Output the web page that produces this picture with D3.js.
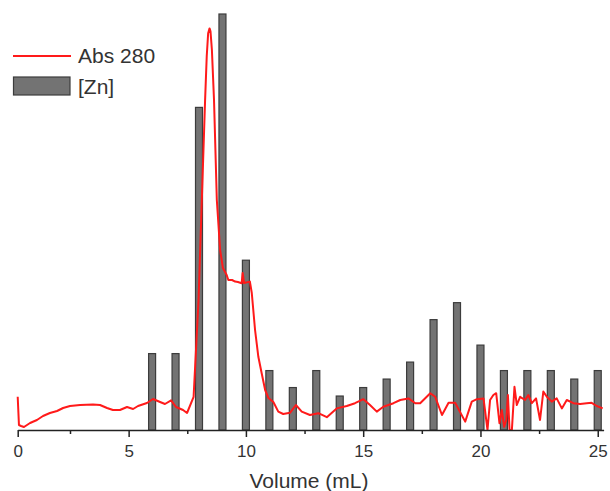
<!doctype html>
<html>
<head>
<title>Abs 280 and [Zn] vs volume</title>
<style type="text/css">
body { margin: 0; background: #fff; }
svg { display: block; font-family: "Liberation Sans", Arial, sans-serif; }
</style>
<script src="https://cdnjs.cloudflare.com/ajax/libs/d3/7.8.5/d3.min.js"></script>
</head>
<body>
<script type="text/javascript">
var width = 610, height = 491;

// fractions collected for zinc (mL) and the zinc level in each
var znVolume = [6, 7, 8, 9, 10, 11, 12, 13, 14, 15, 16, 17, 18, 19, 20, 21, 22, 23, 24, 25];
var znValue  = [9, 9, 38, 49, 20, 7, 5, 7, 4, 5, 6, 8, 13, 15, 10, 7, 7, 7, 6, 7];

// absorbance trace
var absVolume = [0, 0.06, 0.16, 0.30, 0.59, 0.92, 1.21, 1.54, 1.88, 2.17, 2.5, 2.93, 3.48, 3.78,
	4.08, 4.33, 4.63, 4.93, 5.19, 5.40, 5.78, 6.04, 6.34, 6.55, 6.81, 7.02, 7.32, 7.49, 7.77,
	7.98, 8.12, 8.26, 8.33, 8.39, 8.45, 8.49, 8.55, 8.64, 8.76, 8.90, 9.02, 9.18, 9.25, 9.41, 9.54, 9.66,
	9.82, 9.86, 9.92, 10.17, 10.25, 10.39, 10.53, 10.67, 10.82, 10.96, 11.17, 11.38, 11.59,
	11.88, 12.13, 12.38, 12.73, 13.09, 13.45, 13.87, 14.30, 14.65, 15.01, 15.29, 15.58, 15.86,
	16.29, 16.58, 16.93, 17.22, 17.43, 17.86, 18.07, 18.36, 18.64, 18.92, 19.35, 19.63, 19.85,
	20.13, 20.30, 20.41, 20.55, 20.67, 20.81, 20.91, 21.01, 21.10, 21.17, 21.24, 21.34, 21.45,
	21.55, 21.69, 21.90, 22.04, 22.19, 22.37, 22.54, 22.68, 22.83, 23.04, 23.25, 23.47, 23.68,
	23.96, 24.25, 24.53, 24.74, 24.96, 25.21];
var absValue = [8.3, 1.25, 1.0, 0.75, 1.75, 2.5, 3.5, 4.25, 4.75, 5.5, 6.0, 6.25, 6.4, 6.25,
	5.5, 5.0, 5.0, 5.75, 5.25, 6.0, 6.75, 7.75, 7.0, 6.5, 7.4, 5.75, 5.0, 4.25, 8.3,
	32.5, 57.5, 82.5, 93.5, 99.2, 100.4, 99.7, 95, 82.5, 57.5, 45, 40.5, 38.75, 37.5, 37.5, 37.1, 37,
	36.7, 39.25, 36.75, 37.1, 34.25, 25, 18.3, 14.25, 10, 8, 7, 4.6, 4,
	4.3, 6.25, 4.6, 3.75, 4.2, 3.2, 5.4, 6, 6.7, 7.7, 6.25, 4.6, 5.8,
	6.7, 7.5, 7.9, 6.7, 6.7, 9.2, 8.3, 3.75, 6.8, 6.8, 2.1, 7.1, 7.7,
	7.9, 0, 7.5, 8.75, 9.2, 1.7, 5, 0.8, 2.5, 8.75, 0, 0, 10.8,
	6.25, 8.3, 7.5, 8.75, 6.7, 7.9, 2.5, 9.6, 8.3, 7.1, 7.9, 5.4, 7.5,
	6.7, 6.5, 6.7, 6.8, 6, 5.4];

var majorTicks = [0, 5, 10, 15, 20, 25];
var minorTicks = [2.5, 7.5, 12.5, 17.5, 22.5];

var svg = d3.select("body").append("svg")
	.attr("width", width)
	.attr("height", height);

var baseY = 430;

// the first unit of the original axis is a little squeezed
var x = d3.scaleLinear().domain([0, 2.5, 25.25]).range([17.7, 70, 603.6]);
var yZn = d3.scaleLinear().domain([0, 49]).range([baseY, 14]);
var yAbs = d3.scaleLinear().domain([0, 100]).range([baseY, 30]);

var bars = svg.selectAll(".zn")
	.data(znVolume)
	.enter().append("rect")
	.classed("zn", true)
	.attr("x", function(d) { return x(d) - 3.5; })
	.attr("width", 7)
	.attr("y", function(d, i) { return yZn(znValue[i]); })
	.attr("height", function(d, i) { return baseY - yZn(znValue[i]); })
	.style("fill", "#737373")
	.style("stroke", "#3c3c3c")
	.style("stroke-width", 1.2);

var line = d3.line()
	.x(function(d) { return x(d); })
	.y(function(d, i) { return yAbs(absValue[i]); });

svg.append("path")
	.datum(absVolume)
	.attr("d", line)
	.style("fill", "none")
	.style("stroke", "#ff1a1a")
	.style("stroke-width", 2)
	.style("stroke-linejoin", "round");

// x axis
var axis = svg.append("g")
	.attr("transform", "translate(0," + baseY + ")")
	.call(d3.axisBottom(x).tickValues(majorTicks).tickSize(7).tickSizeOuter(0).tickPadding(8));
axis.select(".domain").style("stroke", "#222").style("stroke-width", 1.5);
axis.selectAll(".tick line").style("stroke", "#222").style("stroke-width", 1.5);
axis.selectAll(".tick text").style("font-size", "17px").style("fill", "#333").style("font-family", "Liberation Sans, Arial, sans-serif");

svg.append("g")
	.attr("transform", "translate(0," + baseY + ")")
	.call(d3.axisBottom(x).tickValues(minorTicks).tickSize(4).tickFormat(""))
	.call(function(g) {
		g.select(".domain").remove();
		g.selectAll(".tick line").style("stroke", "#222").style("stroke-width", 1.5);
	});

svg.append("text")
	.attr("x", 309)
	.attr("y", 488)
	.attr("text-anchor", "middle")
	.style("font-size", "21px")
	.style("fill", "#333")
	.text("Volume (mL)");

// legend
svg.append("line")
	.attr("x1", 13).attr("x2", 71)
	.attr("y1", 56).attr("y2", 56)
	.style("stroke", "#ff1a1a")
	.style("stroke-width", 2);
svg.append("text")
	.attr("x", 78).attr("y", 63)
	.style("font-size", "21px")
	.style("fill", "#333")
	.text("Abs 280");

svg.append("rect")
	.attr("x", 13.5).attr("y", 77)
	.attr("width", 56.5).attr("height", 18)
	.style("fill", "#737373")
	.style("stroke", "#3c3c3c")
	.style("stroke-width", 1.2);
svg.append("text")
	.attr("x", 78).attr("y", 94)
	.style("font-size", "21px")
	.style("fill", "#333")
	.text("[Zn]");
</script>
</body>
</html>
